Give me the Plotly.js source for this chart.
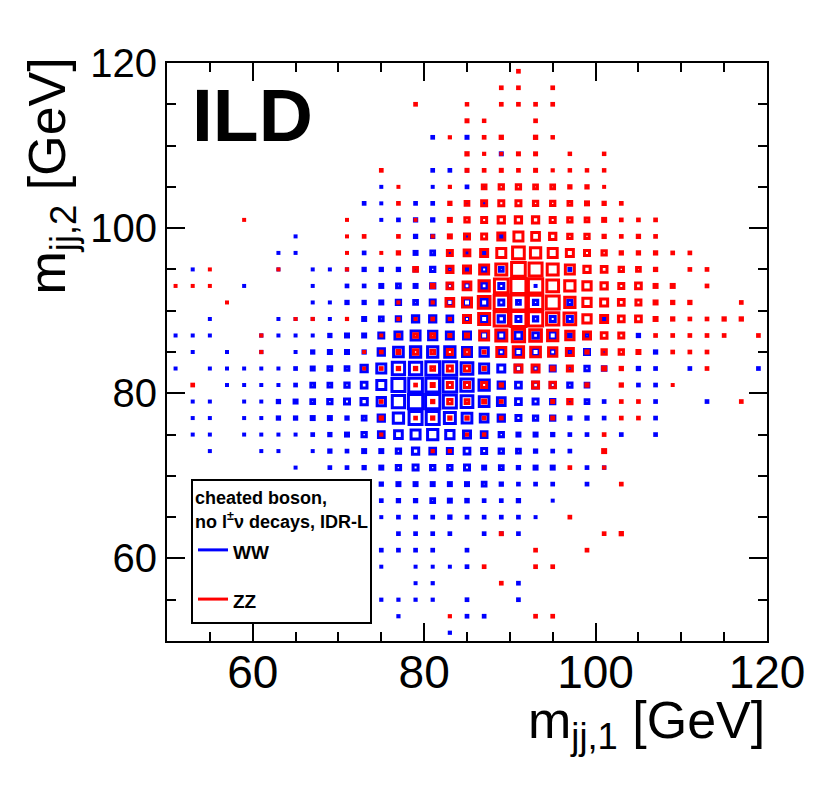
<!DOCTYPE html>
<html>
<head>
<meta charset="utf-8">
<script src="https://cdn.plot.ly/plotly-3.0.1.min.js"></script>
<style>html,body{margin:0;padding:0;background:#fff;}#chart{width:830px;height:798px;}</style>
</head>
<body>
<div id="chart"></div>
<script>
// bin centres (GeV)
const xCenters = [51,53,55,57,59, 61,63,65,67,69, 71,73,75,77,79, 81,83,85,87,89, 91,93,95,97,99, 101,103,105,107,109, 111,113,115,117,119];
const yCenters = [119,117,115,113,111,109,107,105,103,101,99,97,95,93,91,89,87,85,83,81,79,77,75,73,71,69,67,65,63,61,59,57,55,53,51];

// WW bin contents (rows: y = 119 ... 51, columns: x = 51 ... 119)
const wwCounts = [
/*119*/[0,0,0,0,0, 0,0,0,0,0, 0,0,0,0,0, 0,0,0,0,0, 0,0,0,0,0, 0,0,0,0,0, 0,0,0,0,0],
/*117*/[0,0,0,0,0, 0,0,0,0,0, 0,0,0,0,0, 0,0,0,0,0, 0,0,0,0,0, 0,0,0,0,0, 0,0,0,0,0],
/*115*/[0,0,0,0,0, 0,0,0,0,0, 0,0,0,0,0, 0,0,0,0,0, 0,0,0,0,0, 0,0,0,0,0, 0,0,0,0,0],
/*113*/[0,0,0,0,0, 0,0,0,0,0, 0,0,0,0,0, 0,0,0,0,0, 0,0,0,0,0, 0,0,0,0,0, 0,0,0,0,0],
/*111*/[0,0,0,0,0, 0,0,0,0,0, 0,0,0,0,0, 17,0,20,0,0, 0,0,0,0,0, 0,0,0,0,0, 0,0,0,0,0],
/*109*/[0,0,0,0,0, 0,0,0,0,0, 0,0,0,0,0, 0,0,0,0,20, 0,0,0,0,0, 0,0,0,0,0, 0,0,0,0,0],
/*107*/[0,0,0,0,0, 0,0,0,0,0, 0,0,0,0,0, 17,17,12,0,0, 0,0,0,0,0, 0,0,0,0,0, 0,0,0,0,0],
/*105*/[0,0,0,0,0, 0,0,0,0,0, 0,0,10,0,0, 10,0,17,10,0, 0,0,0,0,0, 0,0,0,0,0, 0,0,0,0,0],
/*103*/[0,0,0,0,0, 0,0,0,0,0, 0,17,10,0,17, 17,0,23,23,0, 0,0,0,0,0, 0,0,0,0,0, 0,0,0,0,0],
/*101*/[0,0,0,0,0, 0,0,0,0,0, 0,0,10,17,23, 23,10,0,0,0, 0,0,0,0,0, 0,0,0,0,0, 0,0,0,0,0],
/* 99*/[0,0,0,0,0, 0,0,10,0,0, 0,0,0,0,23, 23,0,17,0,23, 0,0,0,0,0, 0,0,0,0,0, 0,0,0,0,0],
/* 97*/[0,0,0,0,0, 0,10,10,0,0, 0,17,0,0,30, 37,23,23,30,0, 0,0,0,0,0, 0,0,0,0,0, 0,0,0,0,0],
/* 95*/[0,10,0,0,0, 0,10,0,10,10, 12,23,23,23,30, 43,37,23,50,37, 0,0,0,20,0, 0,0,0,0,0, 0,0,0,0,0],
/* 93*/[0,0,0,0,10, 0,0,0,10,0, 17,17,30,37,30, 43,50,57,57,50, 0,10,0,0,0, 0,0,0,0,0, 0,0,0,0,0],
/* 91*/[0,0,0,0,0, 0,0,0,10,10, 23,23,30,43,37, 50,63,70,70,50, 37,43,0,43,0, 0,0,0,0,0, 0,0,0,0,0],
/* 89*/[0,0,10,0,0, 0,10,10,10,10, 10,30,37,43,63, 63,57,50,70,63, 50,43,50,50,0, 30,0,0,0,0, 0,0,0,0,0],
/* 87*/[10,10,10,0,0, 12,10,10,10,23, 30,30,50,70,90, 83,70,70,70,70, 70,57,70,30,37, 0,0,23,0,0, 0,0,0,0,0],
/* 85*/[0,10,0,10,0, 12,0,10,23,30, 30,23,63,97,103, 103,103,90,83,57, 70,70,57,37,50, 23,0,0,23,0, 0,0,0,0,0],
/* 83*/[10,0,10,10,10, 10,10,17,30,37, 37,63,90,123,123, 137,137,117,90,70, 63,50,50,37,43, 37,0,23,17,0, 17,0,0,0,17],
/* 81*/[0,0,0,10,10, 10,10,17,37,37, 43,57,90,130,137, 137,137,123,103,63, 57,57,50,43,37, 0,0,17,17,0, 0,0,0,0,0],
/* 79*/[0,10,10,0,10, 10,23,30,37,43, 50,63,83,123,143, 143,130,117,97,77, 57,50,43,30,37, 17,0,0,17,0, 0,17,0,0,0],
/* 77*/[0,10,10,0,10, 10,23,23,30,30, 23,37,63,103,130, 130,110,97,77,63, 50,43,43,23,23, 17,0,0,17,0, 0,0,0,0,0],
/* 75*/[0,10,10,0,10, 10,10,10,17,23, 30,43,57,77,90, 103,83,70,57,43, 30,30,23,17,17, 0,17,0,17,0, 0,0,0,0,0],
/* 73*/[0,0,10,0,0, 10,10,0,10,23, 17,30,30,43,63, 57,50,57,50,43, 37,23,17,17,0, 0,0,0,0,0, 0,0,0,0,0],
/* 71*/[0,0,0,0,0, 0,0,10,0,17, 17,23,30,43,50, 43,43,50,30,37, 23,30,30,0,17, 15,0,0,0,0, 0,0,0,0,0],
/* 69*/[0,0,0,0,0, 0,0,0,0,0, 0,0,23,30,30, 30,30,30,37,23, 17,17,17,0,17, 0,0,0,0,0, 0,0,0,0,0],
/* 67*/[0,0,0,0,0, 0,0,0,0,0, 0,0,17,23,23, 37,30,25,17,17, 23,0,10,0,0, 0,0,0,0,0, 0,0,0,0,0],
/* 65*/[0,0,0,0,0, 0,0,0,0,0, 0,0,10,17,17, 17,23,17,17,17, 17,10,0,0,0, 0,0,0,0,0, 0,0,0,0,0],
/* 63*/[0,0,0,0,0, 0,0,0,0,0, 0,0,0,17,17, 17,17,0,17,17, 17,0,0,0,0, 0,0,0,0,0, 0,0,0,0,0],
/* 61*/[0,0,0,0,0, 0,0,0,0,0, 0,0,17,17,17, 17,0,17,0,0, 0,0,0,0,0, 0,0,0,0,0, 0,0,0,0,0],
/* 59*/[0,0,0,0,0, 0,0,0,0,0, 0,0,10,0,10, 10,10,17,0,0, 0,0,0,0,0, 0,0,0,0,0, 0,0,0,0,0],
/* 57*/[0,0,0,0,0, 0,0,0,0,0, 0,0,0,0,10, 12,0,0,0,0, 17,0,0,0,0, 0,0,0,0,0, 0,0,0,0,0],
/* 55*/[0,0,0,0,0, 0,0,0,0,0, 0,0,12,12,12, 12,0,17,0,0, 17,0,0,0,0, 0,0,0,0,0, 0,0,0,0,0],
/* 53*/[0,0,0,0,0, 0,0,0,0,0, 0,0,0,12,0, 0,0,17,17,0, 0,0,0,0,0, 0,0,0,0,0, 0,0,0,0,0],
/* 51*/[0,0,0,0,0, 0,0,0,0,0, 0,0,0,0,0, 0,12,0,0,0, 0,0,0,0,0, 0,0,0,0,0, 0,0,0,0,0]
];

// ZZ bin contents (same layout)
const zzCounts = [
/*119*/[0,0,0,0,0, 0,0,0,0,0, 0,0,0,0,0, 0,0,0,0,0, 17,0,0,0,0, 0,0,0,0,0, 0,0,0,0,0],
/*117*/[0,0,0,0,0, 0,0,0,0,0, 0,0,0,0,0, 0,0,0,0,17, 17,0,17,0,0, 0,0,0,0,0, 0,0,0,0,0],
/*115*/[0,0,0,0,0, 0,0,0,0,0, 0,0,0,0,17, 0,0,15,0,17, 17,17,17,0,0, 0,0,0,0,0, 0,0,0,0,0],
/*113*/[0,0,0,0,0, 0,0,0,0,0, 0,0,0,0,0, 0,0,20,15,0, 0,17,0,0,0, 0,0,0,0,0, 0,0,0,0,0],
/*111*/[0,0,0,0,0, 0,0,0,0,0, 0,0,0,0,0, 0,12,0,17,23, 0,23,15,0,0, 0,0,0,0,0, 0,0,0,0,0],
/*109*/[0,0,0,0,0, 0,0,0,0,0, 0,0,0,0,0, 0,0,23,12,10, 20,20,0,15,0, 15,0,0,0,0, 0,0,0,0,0],
/*107*/[0,0,0,0,0, 0,0,0,0,0, 0,0,17,0,0, 0,0,20,17,20, 17,20,12,15,15, 15,0,0,0,0, 0,0,0,0,0],
/*105*/[0,0,0,0,0, 0,0,0,0,0, 0,0,0,10,0, 0,12,0,37,43, 43,37,37,23,23, 10,0,0,0,0, 0,0,0,0,0],
/*103*/[0,0,0,0,0, 0,0,0,0,0, 0,0,0,17,0, 0,23,37,50,50, 50,43,43,37,30, 23,17,0,0,0, 0,0,0,0,0],
/*101*/[0,0,0,0,10, 0,0,0,0,0, 10,0,0,0,10, 0,30,43,50,63, 63,63,50,43,37, 30,17,17,17,0, 0,0,0,0,0],
/* 99*/[0,0,0,0,0, 0,0,0,0,0, 10,17,0,17,0, 12,30,50,50,70, 90,77,63,43,43, 23,17,23,17,0, 0,0,0,0,0],
/* 97*/[0,0,0,0,0, 0,0,0,0,0, 10,0,10,23,0, 0,50,57,70,90, 117,103,90,70,50, 43,23,23,23,17, 17,0,0,0,0],
/* 95*/[0,0,10,0,0, 0,10,0,0,0, 12,0,0,0,37, 0,63,70,90,110, 137,130,110,90,63, 57,43,37,23,0, 17,17,0,0,0],
/* 93*/[10,10,10,0,0, 0,0,0,0,0, 0,0,0,0,0, 30,57,77,103,137, 150,143,117,103,83, 63,50,57,30,30, 0,17,0,0,0],
/* 91*/[0,0,0,10,0, 0,0,0,0,0, 0,0,0,12,0, 12,77,90,117,143, 150,143,130,103,83, 70,57,50,30,23, 23,0,0,17,0],
/* 89*/[0,0,0,0,0, 0,0,10,12,0, 12,0,0,12,10, 17,12,70,110,143, 150,143,123,117,83, 70,57,57,30,23, 17,17,23,23,0],
/* 87*/[0,0,0,0,0, 12,0,0,0,0, 0,0,10,17,37, 37,20,30,90,110, 123,117,103,83,70, 57,50,0,17,17, 17,17,17,0,17],
/* 85*/[0,0,0,0,0, 12,0,0,0,0, 0,10,17,30,43, 37,50,43,20,90, 103,97,83,70,23, 43,43,30,0,17, 17,17,0,0,0],
/* 83*/[0,0,0,0,0, 0,0,0,0,0, 0,10,17,23,23, 37,50,50,23,0, 70,70,30,50,0, 30,23,0,0,0, 0,17,0,0,0],
/* 81*/[0,17,0,0,0, 0,0,0,0,0, 0,0,0,0,17, 30,50,50,50,23, 0,60,55,0,23, 0,23,0,0,10, 0,0,0,0,0],
/* 79*/[0,0,0,0,0, 0,0,0,0,0, 0,0,17,0,0, 23,43,37,30,17, 0,0,20,43,0, 0,17,17,0,0, 0,0,0,17,0],
/* 77*/[0,0,0,0,0, 0,0,0,0,0, 0,0,23,0,17, 23,23,23,17,17, 0,0,20,0,0, 0,17,17,0,0, 0,0,0,0,0],
/* 75*/[0,0,0,0,0, 0,0,0,0,0, 0,0,12,0,0, 0,0,12,15,0, 0,0,0,0,0, 17,0,0,0,0, 0,0,0,0,0],
/* 73*/[0,0,0,0,0, 0,0,0,0,0, 0,0,0,0,0, 12,12,0,0,0, 0,0,0,0,0, 30,0,0,0,0, 0,0,0,0,0],
/* 71*/[0,0,0,0,0, 0,0,0,0,0, 0,0,0,0,0, 0,0,0,0,0, 0,0,0,17,0, 12,0,0,0,0, 0,0,0,0,0],
/* 69*/[0,0,0,0,0, 0,0,0,0,0, 0,0,0,0,0, 0,0,0,0,0, 0,0,0,0,0, 0,17,0,0,0, 0,0,0,0,0],
/* 67*/[0,0,0,0,0, 0,0,0,0,0, 0,0,0,0,0, 0,0,0,0,0, 0,0,0,0,0, 0,0,0,0,0, 0,0,0,0,0],
/* 65*/[0,0,0,0,0, 0,0,0,0,0, 0,0,0,0,0, 0,0,0,0,0, 0,0,0,17,0, 0,0,0,0,0, 0,0,0,0,0],
/* 63*/[0,0,0,0,0, 0,0,0,0,0, 0,0,0,0,0, 0,0,0,0,20, 0,0,0,0,0, 17,23,0,0,0, 0,0,0,0,0],
/* 61*/[0,0,0,0,0, 0,0,0,0,0, 0,0,0,0,0, 0,0,0,0,0, 0,17,0,0,17, 0,0,0,0,0, 0,0,0,0,0],
/* 59*/[0,0,0,0,0, 0,0,0,0,0, 0,0,0,0,0, 0,0,0,17,0, 0,17,17,0,0, 0,0,0,0,0, 0,0,0,0,0],
/* 57*/[0,0,0,0,0, 0,0,0,0,0, 0,0,0,0,0, 0,0,0,0,17, 0,0,0,0,0, 0,0,0,0,0, 0,0,0,0,0],
/* 55*/[0,0,0,0,0, 0,0,0,0,0, 0,0,0,0,0, 0,0,0,0,0, 0,0,0,0,0, 0,0,0,0,0, 0,0,0,0,0],
/* 53*/[0,0,0,0,0, 0,0,0,0,0, 0,0,0,0,0, 0,12,0,0,0, 0,17,17,0,0, 0,0,0,0,0, 0,0,0,0,0],
/* 51*/[0,0,0,0,0, 0,0,0,0,0, 0,0,0,0,0, 0,0,0,0,0, 0,0,0,0,0, 0,0,0,0,0, 0,0,0,0,0]
];

const seriesNames = ['WW', 'ZZ'];
const seriesColors = ['#0000ff', '#ff0000'];
const xTickLabels = ['60', '80', '100', '120'];
const yTickLabels = ['60', '80', '100', '120'];
const tickValues = [60, 80, 100, 120];

const PX_PER_COUNT = 0.1;   // box side (px) per bin entry
const FONT = 'Liberation Sans, Arial, Helvetica, sans-serif';

function boxTrace(matrix, color) {
  const xs = [], ys = [], sizes = [];
  yCenters.forEach((y, r) => {
    xCenters.forEach((x, c) => {
      const v = matrix[r][c];
      if (v > 0) { xs.push(x); ys.push(y); sizes.push(v * PX_PER_COUNT); }
    });
  });
  return {
    type: 'scatter', mode: 'markers', x: xs, y: ys,
    marker: { symbol: 'square-open', size: sizes, color: color, opacity: 1, line: { width: 3 } },
    showlegend: false, hoverinfo: 'skip', cliponaxis: true
  };
}

const traces = [
  boxTrace(wwCounts, seriesColors[0]),
  boxTrace(zzCounts, seriesColors[1]),
  { type: 'scatter', mode: 'lines', x: [null], y: [null],
    name: '<span style="font-size:19px">' + seriesNames[0] + '</span>',
    line: { color: seriesColors[0], width: 3 }, legendgroup: 'a', hoverinfo: 'skip' },
  { type: 'scatter', mode: 'lines', x: [null], y: [null],
    name: '<span style="font-size:19px">' + seriesNames[1] + '</span>',
    line: { color: seriesColors[1], width: 3 }, legendgroup: 'b', hoverinfo: 'skip' }
];

function axisBase(fontSize, labels) {
  return {
    range: [50, 120], showgrid: false, zeroline: false,
    showline: true, linecolor: '#000', linewidth: 2, mirror: 'ticks',
    ticks: 'inside', ticklen: 18, tickwidth: 2, tickcolor: '#000',
    tickmode: 'array', tickvals: tickValues, ticktext: labels,
    tickfont: { family: FONT, size: fontSize, color: '#000' },
    minor: { ticks: 'inside', ticklen: 9, tickwidth: 2, tickcolor: '#000', dtick: 5, tick0: 0, showgrid: false },
    fixedrange: true
  };
}

const layout = {
  width: 830, height: 798,
  margin: { l: 167, r: 63, t: 63, b: 157, pad: 0 },
  paper_bgcolor: '#fff', plot_bgcolor: '#fff',
  xaxis: Object.assign(axisBase(46, xTickLabels), { ticklabelstandoff: -10 }),
  yaxis: Object.assign(axisBase(40, yTickLabels), { ticklabelstandoff: 0 }),
  showlegend: true,
  legend: {
    x: 0.04, y: 0.2803, xanchor: 'left', yanchor: 'top',
    bgcolor: '#fff', bordercolor: '#000', borderwidth: 2,
    font: { family: FONT, size: 24, color: '#000', weight: 'bold' },
    title: { text: 'cheated boson,<br>no l<sup>±</sup>ν decays, IDR-L', side: 'top',
             font: { family: FONT, size: 18, color: '#000', weight: 'bold' } },
    traceorder: 'grouped', tracegroupgap: 15, itemwidth: 30
  },
  annotations: [
    { text: 'ILD', xref: 'paper', yref: 'paper', x: 0.0383, y: 0.910,
      xanchor: 'left', yanchor: 'middle', showarrow: false,
      font: { family: FONT, size: 75, color: '#000', weight: 'bold' } },
    { text: 'm<sub>jj,1</sub> [GeV]', xref: 'paper', yref: 'paper', x: 1.0, y: -0.0830,
      xanchor: 'right', yanchor: 'top', showarrow: false,
      font: { family: FONT, size: 52, color: '#000' } },
    { text: 'm<sub>jj,2</sub> [GeV]', xref: 'paper', yref: 'paper', x: -0.2517, y: 1.0138,
      xanchor: 'left', yanchor: 'top', showarrow: false, textangle: -90,
      font: { family: FONT, size: 52, color: '#000' } }
  ]
};

Plotly.newPlot('chart', traces, layout, { staticPlot: true, displayModeBar: false });
</script>
</body>
</html>
